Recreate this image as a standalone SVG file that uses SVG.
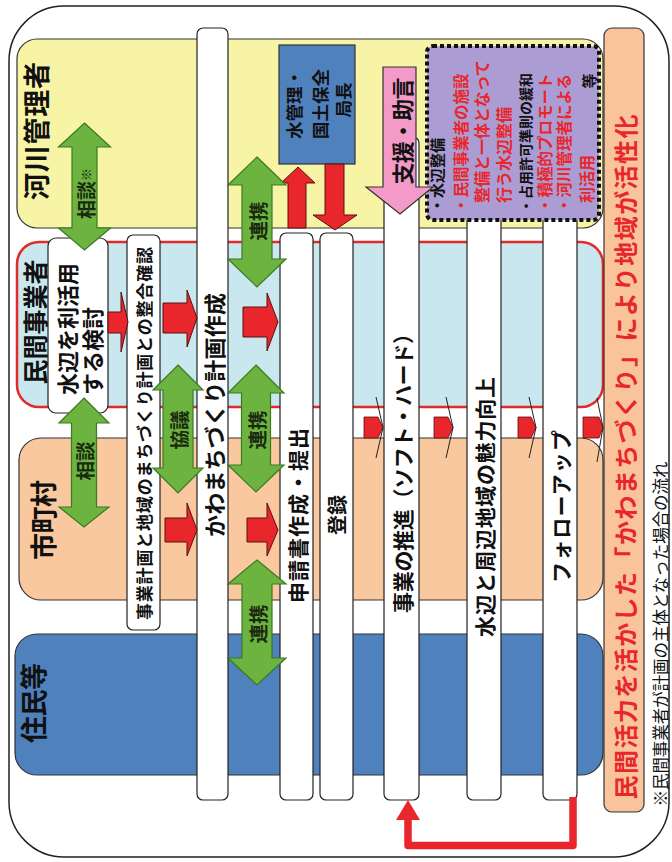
<svg xmlns="http://www.w3.org/2000/svg" width="672" height="862" viewBox="0 0 672 862">
<style>
text{font-family:"Noto Sans CJK JP","Noto Sans CJK SC",sans-serif;font-weight:700;fill:#111}
.c{text-anchor:middle;dominant-baseline:central}
.s{text-anchor:start;dominant-baseline:central}
.bar{fill:#fff;stroke:#222;stroke-width:1.2}
.band{stroke:#333;stroke-width:1.2}
.grn{fill:#6cb43f;stroke:#3b7a22;stroke-width:1.2}
.red{fill:#e8262b;stroke:#5a1010;stroke-width:1}
.wed{fill:none;stroke:#222;stroke-width:1}
.rt{fill:#e8262b}
.lbl{font-size:19.5px;fill:#1a2a10}
</style>
<rect x="9" y="6" width="660" height="851" rx="55" fill="#fff" stroke="#222" stroke-width="1.5"/>

<g id="band-kasen">
<rect class="band" x="17" y="39" width="586" height="189" rx="20" fill="#f8f4a6"/>
<text class="c" transform="translate(35 131) rotate(-90)" font-size="27" textLength="138" lengthAdjust="spacing">河川管理者</text>
</g>
<g id="band-minkan">
<rect x="17" y="242" width="586" height="165" rx="22" fill="#c9e7ee" stroke="#e32a2a" stroke-width="2.5"/>
<text class="c" transform="translate(34 322) rotate(-90)" font-size="25" textLength="125" lengthAdjust="spacing">民間事業者</text>
</g>
<g id="band-shichoson">
<rect class="band" x="19" y="438" width="584" height="162" rx="22" fill="#fac89e"/>
<text class="c" transform="translate(42 520) rotate(-90)" font-size="27" textLength="80" lengthAdjust="spacing">市町村</text>
</g>
<g id="band-jumin">
<rect class="band" x="15" y="634" width="588" height="141" rx="22" fill="#4f81bd"/>
<text class="c" transform="translate(32 703) rotate(-90)" font-size="27" textLength="80" lengthAdjust="spacing">住民等</text>
</g>

<g id="result">
<rect x="604" y="28" width="40" height="784" rx="8" fill="#f9c49c" stroke="#333" stroke-width="1.2"/>
<text class="c" transform="translate(624 457) rotate(-90)" font-size="24" style="fill:#e8262b" textLength="685" lengthAdjust="spacing">民間活力を活かした「かわまちづくり」により地域が活性化</text>
</g>

<g id="bar-kento">
<rect class="bar" x="48" y="238" width="60" height="175" rx="8"/>
<text class="s" transform="translate(66 395) rotate(-90)" font-size="22">水辺を利活用</text>
<text class="s" transform="translate(91 395) rotate(-90)" font-size="22">する検討</text>
</g>
<g id="bar-seigo">
<rect class="bar" x="127" y="235" width="33" height="395" rx="6"/>
<text class="c" transform="translate(143.5 433.5) rotate(-90)" font-size="17" textLength="373" lengthAdjust="spacing">事業計画と地域のまちづくり計画との整合確認</text>
</g>
<g id="bar-keikaku">
<rect class="bar" x="197" y="28" width="31" height="772" rx="6"/>
<text class="c" transform="translate(212.5 415) rotate(-90)" font-size="22" textLength="244" lengthAdjust="spacing">かわまちづくり計画作成</text>
</g>
<g id="bar-shinsei">
<rect class="bar" x="280" y="233" width="33" height="567" rx="6"/>
<text class="c" transform="translate(297 515.5) rotate(-90)" font-size="21" textLength="175" lengthAdjust="spacing">申請書作成・提出</text>
</g>
<g id="bar-toroku">
<rect class="bar" x="320" y="233" width="33" height="567" rx="6"/>
<text class="c" transform="translate(336.5 515) rotate(-90)" font-size="20">登録</text>
</g>
<g id="bar-suishin">
<rect class="bar" x="384" y="137" width="35" height="663" rx="6"/>
<text class="c" transform="translate(401.5 468) rotate(-90)" font-size="21" textLength="290" lengthAdjust="spacing">事業の推進（ソフト・ハード）</text>
</g>
<g id="bar-miryoku">
<rect class="bar" x="467" y="200" width="34" height="600" rx="6"/>
<text class="c" transform="translate(484 507) rotate(-90)" font-size="21" textLength="260" lengthAdjust="spacing">水辺と周辺地域の魅力向上</text>
</g>
<g id="bar-followup">
<rect class="bar" x="543" y="200" width="34" height="600" rx="6"/>
<text class="c" transform="translate(560 506.5) rotate(-90)" font-size="21" textLength="153" lengthAdjust="spacing">フォローアップ</text>
</g>

<g id="kyokucho">
<rect x="279" y="45" width="76" height="119" fill="#4f81bd" stroke="#333" stroke-width="1.2"/>
<text class="c" transform="translate(293 104) rotate(-90)" font-size="17.5">水管理・</text>
<text class="c" transform="translate(319 104) rotate(-90)" font-size="17.5">国土保全</text>
<text class="c" transform="translate(342 100) rotate(-90)" font-size="17.5">局長</text>
</g>

<g id="shien-box">
<rect x="427" y="46" width="172" height="174" rx="6" fill="#ab9dd3" stroke="#111" stroke-width="4" stroke-dasharray="4 3"/>
<text class="s" transform="translate(436 213) rotate(-90)" font-size="15">・水辺整備</text>
<text class="s" transform="translate(460 213) rotate(-90)" font-size="15.5" style="fill:#e8262b">・民間事業者の施設</text>
<text class="s" transform="translate(481 203) rotate(-90)" font-size="16" style="fill:#e8262b">整備と一体となって</text>
<text class="s" transform="translate(503 203) rotate(-90)" font-size="16" style="fill:#e8262b">行う水辺整備</text>
<text class="s" transform="translate(525 213) rotate(-90)" font-size="14">・占用許可準則の緩和</text>
<text class="s" transform="translate(544 213) rotate(-90)" font-size="15.5" style="fill:#e8262b">・積極的プロモート</text>
<text class="s" transform="translate(563 213) rotate(-90)" font-size="15.5" style="fill:#e8262b">・河川管理者による</text>
<text class="s" transform="translate(586 203) rotate(-90)" font-size="16" style="fill:#e8262b">利活用</text>
<text class="c" transform="translate(588 81) rotate(-90)" font-size="15">等</text>
</g>

<g id="connectors">
<path class="red" d="M298,167 L315,183 L306,183 L306,228 L288,228 L288,183 L281,183 Z"/>
<path class="red" d="M325,164 L344,164 L344,215 L357,215 L335,230 L313,215 L325,215 Z"/>
<path d="M383,67 L416,67 L416,187 L433,187 L400,214 L366,187 L383,187 Z" fill="#f49ac9" stroke="#333" stroke-width="1.2"/>
<text class="c" transform="translate(401 131) rotate(-90)" font-size="22" textLength="107" lengthAdjust="spacing">支援・助言</text>

<path class="grn" d="M84.5,123 L110.5,147 L97,147 L97,228 L110.5,228 L84.5,250 L58.5,228 L72,228 L72,147 L58.5,147 Z"/>
<text transform="translate(84.5 219) rotate(-90)" style="dominant-baseline:central;fill:#1a2a10"><tspan font-size="19">相談</tspan><tspan font-size="13" font-weight="400">※</tspan></text>
<path class="grn" d="M84,398 L109,423 L96.5,423 L96.5,507 L109,507 L84,527 L59,507 L71.5,507 L71.5,423 L59,423 Z"/>
<text class="c lbl" transform="translate(84 461) rotate(-90)">相談</text>
<path class="grn" d="M178,365 L203,390 L193,390 L193,468 L203,468 L178,493 L153,468 L163,468 L163,390 L153,390 Z"/>
<text class="c lbl" transform="translate(178 430) rotate(-90)">協議</text>
<path class="grn" d="M257,157 L286,185 L272,185 L272,259 L286,259 L257,287 L228,259 L242,259 L242,185 L228,185 Z"/>
<text class="c lbl" transform="translate(257 221) rotate(-90)">連携</text>
<path class="grn" d="M256,365 L284,393 L270.5,393 L270.5,465 L284,465 L256,492 L228,465 L241.5,465 L241.5,393 L228,393 Z"/>
<text class="c lbl" transform="translate(256 430) rotate(-90)">連携</text>
<path class="grn" d="M257,560 L286,584 L272,584 L272,658 L286,658 L257,685 L228,658 L242,658 L242,584 L228,584 Z"/>
<text class="c lbl" transform="translate(257 624) rotate(-90)">連携</text>

<path class="red" d="M108,312 L121,312 L121,292 L128,322 L121,352 L121,333 L108,333 Z"/>
<path class="red" d="M163,303 L187,303 L187,290 L197,318 L187,347 L187,333 L163,333 Z"/>
<path class="red" d="M243,307 L267,307 L267,293 L278,322 L267,351 L267,337 L243,337 Z"/>
<path class="red" d="M165,518 L187,518 L187,503 L197,530 L187,556 L187,542 L165,542 Z"/>
<path class="red" d="M247,518 L267,518 L267,503 L278,530 L267,556 L267,542 L247,542 Z"/>

<path class="rt" d="M364,417 L378,417 L383,427.5 L378,438 L364,438 Z" stroke="#5a1010" stroke-width="0.8"/>
<path class="wed" d="M376,397 L383,427.5 L376,458"/>
<path class="rt" d="M434,417 L448,417 L453,427.5 L448,438 L434,438 Z" stroke="#5a1010" stroke-width="0.8"/>
<path class="wed" d="M446,397 L453,427.5 L446,458"/>
<path class="rt" d="M518,417 L531,417 L536,427.5 L531,438 L518,438 Z" stroke="#5a1010" stroke-width="0.8"/>
<path class="wed" d="M529,397 L536,427.5 L529,458"/>
<path class="rt" d="M583,417 L599,417 L603,427.5 L599,438 L583,438 Z" stroke="#5a1010" stroke-width="0.8"/>
<path class="wed" d="M597,398 L603,427.5 L597,462"/>

<path d="M573,797 V845.5 H408 V818" fill="none" stroke="#e8262b" stroke-width="7.5" stroke-linejoin="round"/>
<path d="M396,820 L420,820 L408,800 Z" fill="#e8262b"/>
</g>

<text transform="translate(660 634) rotate(-90)" class="c" font-size="16.5" style="font-weight:400" textLength="345" lengthAdjust="spacing">※民間事業者が計画の主体となった場合の流れ</text>
</svg>
